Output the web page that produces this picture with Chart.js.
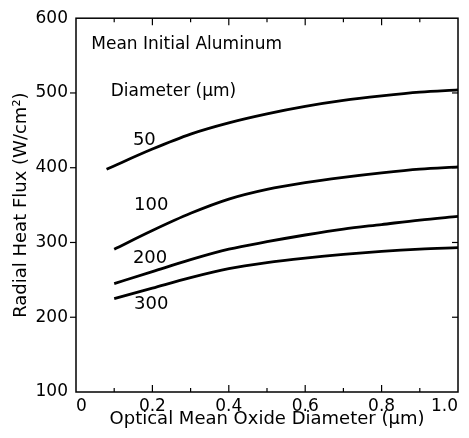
<!DOCTYPE html>
<html><head><meta charset="utf-8">
<script src="https://cdn.jsdelivr.net/npm/chart.js@4"></script>
<style>html,body{margin:0;padding:0;background:#fff}#wrap{width:469px;height:438px}</style>
</head><body><div id="wrap"><canvas id="c" width="469" height="438"></canvas></div>
<script>
const xValues = [0.1, 0.2, 0.3, 0.4, 0.5, 0.6, 0.7, 0.8, 0.9, 1.0];
const d50x = [0.08, 0.2, 0.3, 0.4, 0.5, 0.6, 0.7, 0.8, 0.9, 1.0];
const d50 = [398, 425, 445, 460, 472, 482, 490, 496, 501, 504];
const d100 = [291, 316, 339, 358, 371, 380, 387, 393, 398, 401];
const d200 = [245, 261, 277, 291, 301, 310, 318, 324, 330, 335];
const d300 = [225, 239, 253, 265, 273, 279, 284, 288, 291, 293];
const seriesNames = ["50", "100", "200", "300"];
const xTicks = [0, 0.2, 0.4, 0.6, 0.8, 1.0];
const yTicks = [100, 200, 300, 400, 500, 600];
const labelPos = [[0.149, 437], [0.152, 350], [0.149, 279], [0.152, 217]];

const FONT = "'DejaVu Sans', sans-serif";
function pts(xs, ys){ return xs.map((x,i)=>({x:x, y:ys[i]})); }
const ds = [pts(d50x,d50), pts(xValues,d100), pts(xValues,d200), pts(xValues,d300)].map((d,i)=>({
  label: seriesNames[i], data: d, borderColor:'#000', borderWidth:2.8, pointRadius:0,
  fill:false, cubicInterpolationMode:'monotone'
}));

const deco = {
  id:'deco',
  afterDraw(chart){
    const ctx = chart.ctx, xs = chart.scales.x, ys = chart.scales.y, a = chart.chartArea;
    ctx.save();
    ctx.strokeStyle='#000'; ctx.lineWidth=1.5;
    ctx.strokeRect(a.left, a.top, a.right-a.left, a.bottom-a.top);
    ctx.lineWidth=1.2;
    for(let i=1;i<10;i++){
      const v=i/10, px=xs.getPixelForValue(v), L=(i%2===0)?7:4;
      ctx.beginPath(); ctx.moveTo(px,a.bottom); ctx.lineTo(px,a.bottom-L); ctx.stroke();
      ctx.beginPath(); ctx.moveTo(px,a.top); ctx.lineTo(px,a.top+L); ctx.stroke();
    }
    yTicks.forEach(v=>{
      if(v===100||v===600) return;
      const py=ys.getPixelForValue(v);
      ctx.beginPath(); ctx.moveTo(a.left-6,py); ctx.lineTo(a.left,py); ctx.stroke();
      ctx.beginPath(); ctx.moveTo(a.right,py); ctx.lineTo(a.right-6,py); ctx.stroke();
    });
    ctx.fillStyle='#000'; ctx.font="17px "+FONT; ctx.textBaseline='middle'; ctx.textAlign='left';
    ctx.fillText("Mean Initial Aluminum", xs.getPixelForValue(0.04), ys.getPixelForValue(565));
    ctx.fillText("Diameter (\u03bcm)", xs.getPixelForValue(0.091), ys.getPixelForValue(502));
    ctx.font="18px "+FONT;
    seriesNames.forEach((n,i)=>{
      ctx.fillText(n, xs.getPixelForValue(labelPos[i][0]), ys.getPixelForValue(labelPos[i][1]));
    });
    ctx.restore();
  }
};

new Chart(document.getElementById('c'), {
  type:'line',
  data:{datasets:ds},
  plugins:[deco],
  options:{
    responsive:false, animation:false,
    layout:{padding:{top:15,right:11,left:0,bottom:0}},
    plugins:{legend:{display:false}, tooltip:{enabled:false}},
    scales:{
      x:{type:'linear', min:0, max:1,
        afterBuildTicks(s){ s.ticks = xTicks.map(v=>({value:v})); },
        afterFit(s){ s.height = 46; s.paddingLeft = 0; s.paddingRight = 0; },
        grid:{display:false, drawTicks:false},
        border:{display:false},
        ticks:{color:'#000', font:{size:17, family:FONT}, padding:4, align:'inner', maxRotation:0,
          callback:(v)=> v===0 ? '0' : v.toFixed(1)},
        title:{display:true, text:'Optical Mean Oxide Diameter (\u03bcm)', color:'#000',
          font:{size:18, family:FONT}, padding:{top:0,bottom:8}}
      },
      y:{type:'linear', min:100, max:600,
        afterBuildTicks(s){ s.ticks = yTicks.map(v=>({value:v})); },
        afterFit(s){ s.width = 76; },
        grid:{display:false, drawTicks:false},
        border:{display:false},
        ticks:{color:'#000', font:{size:17, family:FONT}, padding:8},
        title:{display:true, text:'Radial Heat Flux (W/cm\u00b2)', color:'#000',
          font:{size:18, family:FONT}, padding:{top:11,bottom:0}}
      }
    }
  }
});
</script></body></html>
